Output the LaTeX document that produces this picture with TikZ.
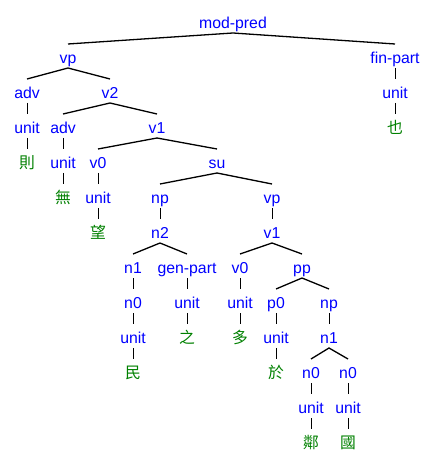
\documentclass[tikz,border=0pt]{standalone}
\usepackage{fontspec}
\setmainfont{Liberation Sans}
\newfontfamily\cjk{Noto Sans CJK TC}
\usepackage{xcolor}
\usetikzlibrary{positioning}
\definecolor{catblue}{RGB}{0,0,255}
\definecolor{wordgreen}{RGB}{0,128,0}
\newcommand{\lf}{\fontsize{15.8}{18}\selectfont}

\begin{document}
\begin{tikzpicture}[x=1pt, y=-1pt,
  every node/.style={inner sep=0pt, outer sep=0pt, text height=19.5pt, text depth=4.5pt, anchor=base, yshift=-1.5pt},
  cat/.style={font=\lf, text=catblue},
  word/.style={font=\lf\cjk, text=wordgreen},
  branch/.style={line width=1.3pt},
  stem/.style={line width=0.9pt}]
\useasboundingbox (0,0) rectangle (435,462);
% ---- row 0 to 3
\node[cat] (mp) at (233,27) {mod-pred};
\node[cat] (vpa) at (68,62) {vp};
\node[cat] (fp) at (395,62) {fin-part};
\node[cat] (adva) at (27,97) {adv};
\node[cat] (v2) at (110,97) {v2};
\node[cat] (ufp) at (395,97) {unit};
\node[cat] (unita) at (27,132) {unit};
\node[cat] (advb) at (63,132) {adv};
\node[cat] (v1a) at (157,132) {v1};
\node[word] (ye) at (395,132) {也};
% ---- row 4 to 7
\node[word] (ze) at (27,167) {則};
\node[cat] (unitb) at (63,167) {unit};
\node[cat] (v0a) at (98,167) {v0};
\node[cat] (su) at (217,167) {su};
\node[word] (wu) at (63,202) {無};
\node[cat] (unitc) at (98,202) {unit};
\node[cat] (npa) at (160,202) {np};
\node[cat] (vpb) at (272,202) {vp};
\node[word] (wang) at (98,237) {望};
\node[cat] (n2) at (160,237) {n2};
\node[cat] (v1b) at (272,237) {v1};
\node[cat] (n1a) at (133,272) {n1};
\node[cat] (gp) at (187,272) {gen-part};
\node[cat] (v0b) at (240,272) {v0};
\node[cat] (pp) at (302,272) {pp};
% ---- row 8 to 12
\node[cat] (n0a) at (133,307) {n0};
\node[cat] (unitd) at (187,307) {unit};
\node[cat] (unite) at (240,307) {unit};
\node[cat] (p0) at (276,307) {p0};
\node[cat] (npb) at (329,307) {np};
\node[cat] (unitf) at (133,342) {unit};
\node[word] (zhi) at (187,342) {之};
\node[word] (duo) at (240,342) {多};
\node[cat] (unitg) at (276,342) {unit};
\node[cat] (n1b) at (329,342) {n1};
\node[word] (min) at (133,377) {民};
\node[word] (yu) at (276,377) {於};
\node[cat] (n0b) at (311,377) {n0};
\node[cat] (n0c) at (348,377) {n0};
\node[cat] (unith) at (311,412) {unit};
\node[cat] (uniti) at (348,412) {unit};
\node[word] (lin) at (311,447) {鄰};
\node[word] (guo) at (348,447) {國};
% ---- connectors
\foreach \p/\l/\r in {mp/vpa/fp, vpa/adva/v2, v2/advb/v1a, v1a/v0a/su, su/npa/vpb,
    n2/n1a/gp, v1b/v0b/pp, pp/p0/npb, n1b/n0b/n0c}
  \draw[branch] (\l.north) -- (\p.south) -- (\r.north);
\foreach \p/\c in {fp/ufp, ufp/ye, adva/unita, unita/ze, advb/unitb, unitb/wu,
    v0a/unitc, unitc/wang, npa/n2, vpb/v1b, n1a/n0a, n0a/unitf, unitf/min,
    gp/unitd, unitd/zhi, v0b/unite, unite/duo, p0/unitg, unitg/yu, npb/n1b,
    n0b/unith, unith/lin, n0c/uniti, uniti/guo}
  \draw[stem] (\p.south) -- (\c.north);
\end{tikzpicture}
\end{document}
